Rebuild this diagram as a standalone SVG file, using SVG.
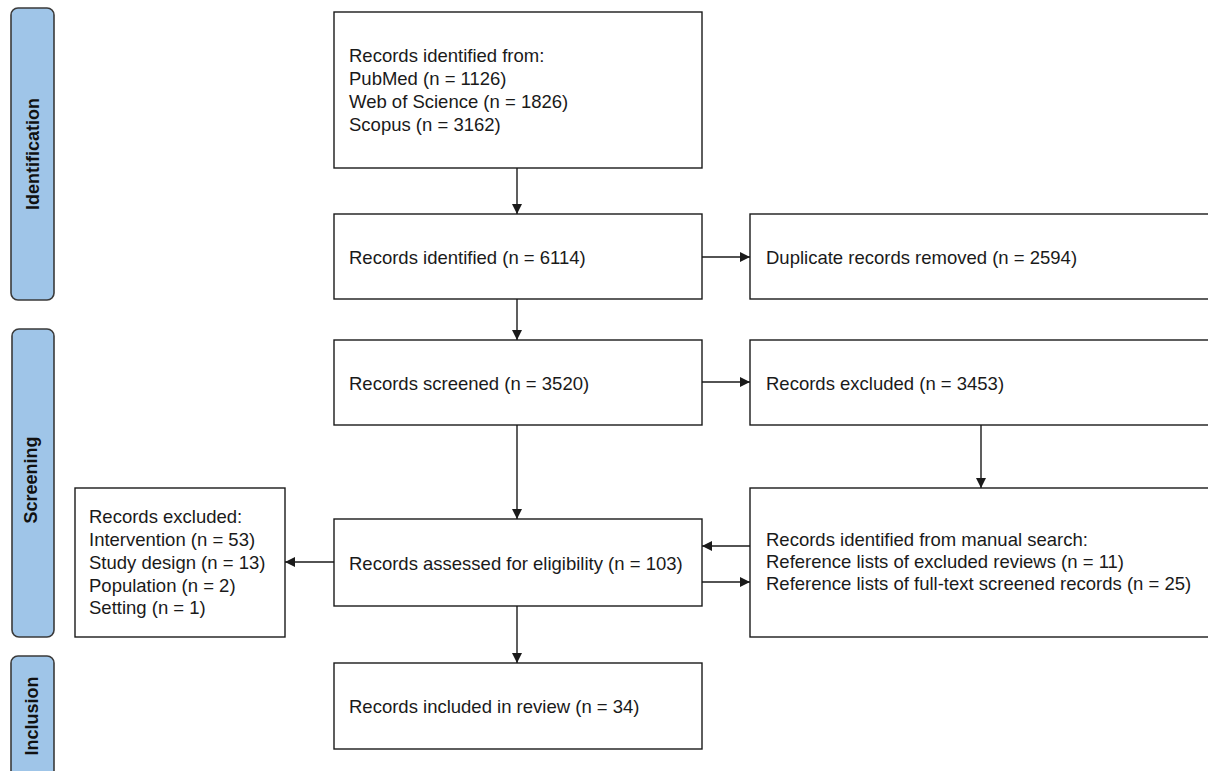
<svg xmlns="http://www.w3.org/2000/svg" width="1208" height="771" viewBox="0 0 1208 771">
<defs>
<style>
.box{fill:#fff;stroke:#1a1a1a;stroke-width:1.4}
.bar{fill:#9fc5e8;stroke:#3a3a3a;stroke-width:1.6}
.t{font-family:"Liberation Sans",Arial,sans-serif;font-size:18.5px;fill:#1a1a1a}
.bt{font-family:"Liberation Sans",Arial,sans-serif;font-size:18px;font-weight:bold;fill:#111;text-anchor:middle}
.c{fill:none;stroke:#1a1a1a;stroke-width:1.4}
</style>
<marker id="ah" viewBox="0 0 10 10" refX="10" refY="5" markerWidth="10" markerHeight="10" markerUnits="userSpaceOnUse" orient="auto">
<path d="M0,0 L10,5 L0,10 z" fill="#1a1a1a"/>
</marker>
</defs>
<rect width="1208" height="771" fill="#fff"/>

<g id="phase-identification">
<rect class="bar" x="11" y="8" width="43" height="292" rx="7"/>
<text class="bt" transform="translate(39,154) rotate(-90)">Identification</text>
</g>
<g id="phase-screening">
<rect class="bar" x="12" y="329" width="42" height="308" rx="7"/>
<text class="bt" transform="translate(37,480) rotate(-90)">Screening</text>
</g>
<g id="phase-inclusion">
<rect class="bar" x="11" y="656" width="43" height="140" rx="7"/>
<text class="bt" transform="translate(38,716) rotate(-90)">Inclusion</text>
</g>

<g id="connectors">
<line class="c" x1="517" y1="168" x2="517" y2="214" marker-end="url(#ah)"/>
<line class="c" x1="702" y1="257" x2="750" y2="257" marker-end="url(#ah)"/>
<line class="c" x1="517" y1="299" x2="517" y2="340" marker-end="url(#ah)"/>
<line class="c" x1="702" y1="382" x2="750" y2="382" marker-end="url(#ah)"/>
<line class="c" x1="517" y1="425" x2="517" y2="519" marker-end="url(#ah)"/>
<line class="c" x1="981" y1="425" x2="981" y2="488" marker-end="url(#ah)"/>
<line class="c" x1="750" y1="546" x2="702" y2="546" marker-end="url(#ah)"/>
<line class="c" x1="702" y1="582" x2="750" y2="582" marker-end="url(#ah)"/>
<line class="c" x1="334" y1="562" x2="285" y2="562" marker-end="url(#ah)"/>
<line class="c" x1="517" y1="606" x2="517" y2="663" marker-end="url(#ah)"/>
</g>

<g id="records-identified-from">
<rect class="box" x="334" y="12" width="368" height="156"/>
<text class="t" x="349" y="62">Records identified from:</text>
<text class="t" x="349" y="85">PubMed (n = 1126)</text>
<text class="t" x="349" y="108">Web of Science (n = 1826)</text>
<text class="t" x="349" y="131">Scopus (n = 3162)</text>
</g>
<g id="records-identified">
<rect class="box" x="334" y="214" width="368" height="85"/>
<text class="t" x="349" y="264">Records identified (n = 6114)</text>
</g>
<g id="duplicates-removed">
<rect class="box" x="750" y="214" width="470" height="85"/>
<text class="t" x="766" y="264">Duplicate records removed (n = 2594)</text>
</g>
<g id="records-screened">
<rect class="box" x="334" y="340" width="368" height="85"/>
<text class="t" x="349" y="390">Records screened (n = 3520)</text>
</g>
<g id="records-excluded-screening">
<rect class="box" x="750" y="340" width="470" height="85"/>
<text class="t" x="766" y="390">Records excluded (n = 3453)</text>
</g>
<g id="manual-search">
<rect class="box" x="750" y="488" width="470" height="149"/>
<text class="t" x="766" y="546">Records identified from manual search:</text>
<text class="t" x="766" y="568">Reference lists of excluded reviews (n =  11)</text>
<text class="t" x="766" y="590">Reference lists of full-text screened records (n = 25)</text>
</g>
<g id="records-assessed">
<rect class="box" x="334" y="519" width="368" height="87"/>
<text class="t" x="349" y="570">Records assessed for eligibility (n = 103)</text>
</g>
<g id="records-excluded-eligibility">
<rect class="box" x="75" y="488" width="210" height="149"/>
<text class="t" x="89" y="523">Records excluded:</text>
<text class="t" x="89" y="546">Intervention (n = 53)</text>
<text class="t" x="89" y="569">Study design (n = 13)</text>
<text class="t" x="89" y="592">Population (n = 2)</text>
<text class="t" x="89" y="614">Setting (n = 1)</text>
</g>
<g id="records-included">
<rect class="box" x="334" y="663" width="368" height="86"/>
<text class="t" x="349" y="713">Records included in review (n = 34)</text>
</g>
</svg>
